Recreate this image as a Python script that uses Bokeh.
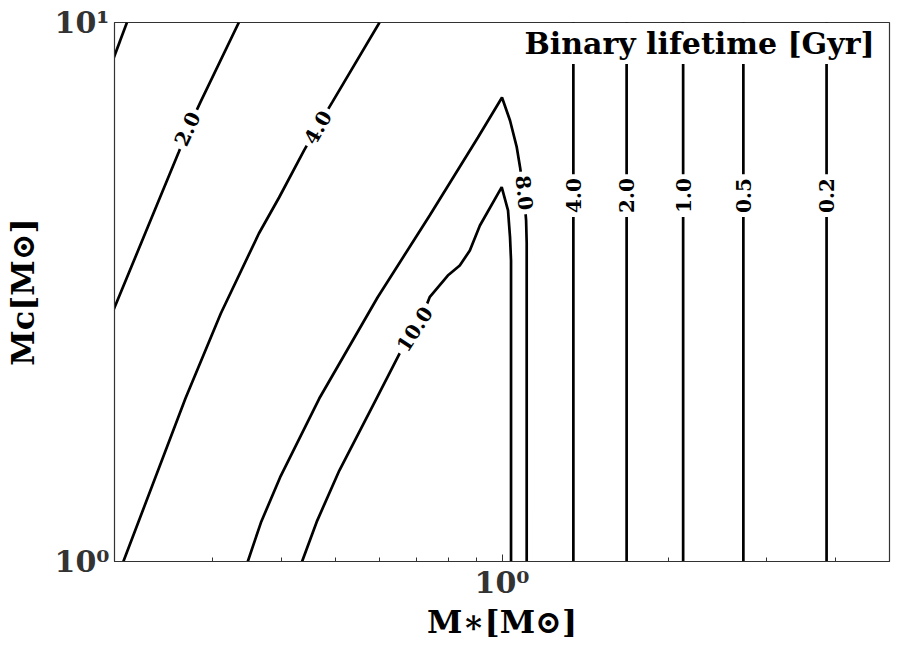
from bokeh.plotting import figure
from bokeh.models import Range1d, FixedTicker, CustomJSTickFormatter, Label
from bokeh.embed import file_html
from bokeh.resources import INLINE

# ---- data (M_* in Msun, M_c in Msun) ----
# contour 1.0 Gyr (top-left corner, unlabelled)
c1_x = [0.198, 0.2106]
c1_y = [8.44, 10.0]
# contour 2.0 Gyr (left branch)
c2_x = [0.198, 0.2275, 0.2611, 0.2722, 0.2858, 0.3352]
c2_y = [2.885, 4.077, 5.745, 6.39, 7.115, 10.0]
# contour 4.0 Gyr (left branch)
c4_x = [0.2075, 0.2685, 0.311, 0.3643, 0.3962, 0.4395, 0.4642, 0.4942, 0.6012]
c4_y = [1.0, 2.006, 2.885, 4.06, 4.735, 5.79, 6.39, 7.115, 10.0]
# contour 8.0 Gyr
c8_x = [0.3479, 0.3674, 0.3978, 0.4681, 0.5963, 0.7405, 0.9048, 1.0,
        1.0339, 1.0632, 1.0779, 1.0962, 1.1053, 1.108, 1.108]
c8_y = [1.0, 1.181, 1.432, 2.006, 3.089, 4.385, 6.118, 7.26,
        6.58, 5.87, 5.39, 4.775, 4.293, 3.9, 1.0]
# contour 10.0 Gyr
c10_x = [0.4359, 0.4642, 0.5088, 0.5937, 0.6579, 0.7045, 0.7405, 0.7984,
         0.8391, 0.875, 0.9123, 0.9988, 1.0253, 1.0339, 1.0382, 1.0382]
c10_y = [1.0, 1.191, 1.475, 2.006, 2.464, 2.718, 3.093, 3.393,
         3.541, 3.776, 4.202, 4.948, 4.48, 3.997, 3.618, 1.0]
# vertical contours on the right
vl_levels = ["4.0", "2.0", "1.0", "0.5", "0.2"]
vl_x = [1.345, 1.678, 2.122, 2.725, 3.85]

# inline contour labels: text, x, y, angle (deg)
lab_text = ["2.0", "4.0", "10.0", "8.0"]
lab_x = [0.2703, 0.4648, 0.695, 1.099]
lab_y = [6.35, 6.39, 2.70, 4.83]
lab_ang = [65, 60, 57, -84]
vl_label_y = 4.775

x_minor = [0.2, 0.3, 0.4, 0.5, 0.6, 0.7, 0.8, 0.9, 2, 3, 4, 5]
x_major = [1.0]
y_major = [1.0, 10.0]

SERIF = "DejaVu Serif"

p = figure(width=899, height=649, x_axis_type="log", y_axis_type="log",
           x_range=Range1d(0.2, 5), y_range=Range1d(1, 10),
           output_backend="svg", toolbar_location=None,
           min_border_left=114, min_border_right=10,
           min_border_top=22, min_border_bottom=88)

p.xgrid.visible = False
p.ygrid.visible = False
p.outline_line_color = "#333333"
p.outline_line_width = 1.2
p.background_fill_color = "white"
p.border_fill_color = "white"

fmt = CustomJSTickFormatter(code="""
const labels = {1: "10\u2070", 10: "10\u00b9"};
const k = Math.round(tick);
return (k in labels) ? labels[k] : "";
""")

p.xaxis.ticker = FixedTicker(ticks=x_major, minor_ticks=x_minor)
p.yaxis.ticker = FixedTicker(ticks=y_major, minor_ticks=[])
p.xaxis.formatter = fmt
p.yaxis.formatter = fmt

for ax in (p.xaxis[0], p.yaxis[0]):
    ax.major_label_text_font = SERIF
    ax.major_label_text_font_style = "bold"
    ax.major_label_text_font_size = "30px"
    ax.major_label_text_color = "#333333"
    ax.axis_label_text_font = SERIF
    ax.axis_label_text_font_style = "bold"
    ax.axis_label_text_font_size = "32px"
    ax.axis_label_text_color = "black"
    ax.axis_line_color = "#333333"
    ax.major_tick_line_color = "#333333"
    ax.minor_tick_line_color = "#333333"

p.xaxis.major_tick_in = 7
p.xaxis.major_tick_out = 0
p.xaxis.minor_tick_in = 4
p.xaxis.minor_tick_out = 0
p.xaxis.major_label_standoff = 3
p.xaxis.axis_label_standoff = 0
p.yaxis.major_tick_in = 0
p.yaxis.major_tick_out = 0
p.yaxis.minor_tick_in = 0
p.yaxis.minor_tick_out = 0
p.yaxis.major_label_standoff = 5
p.yaxis.axis_label_standoff = 10

p.xaxis.axis_label = "M\u2217[M\u2299]"
p.yaxis.axis_label = "M\u1d04[M\u2299]"

LW = 2.7
for xs, ys in ((c1_x, c1_y), (c2_x, c2_y), (c4_x, c4_y), (c8_x, c8_y), (c10_x, c10_y)):
    p.line(xs, ys, line_color="black", line_width=LW)

for xv in vl_x:
    p.line([xv, xv], [1.0, 10.0], line_color="black", line_width=LW)

def clabel(x, y, text, ang):
    p.add_layout(Label(x=x, y=y, text=text, angle=ang, angle_units="deg",
                       text_align="center", text_baseline="middle",
                       text_font=SERIF, text_font_style="bold",
                       text_font_size="20px", text_color="black",
                       background_fill_color="white", padding=4))

for t, x, y, a in zip(lab_text, lab_x, lab_y, lab_ang):
    clabel(x, y, t, a)
for t, x in zip(vl_levels, vl_x):
    clabel(x, vl_label_y, t, 90)

p.add_layout(Label(x=4.76, y=9.14, text="Binary lifetime [Gyr]",
                   text_align="right", text_baseline="middle",
                   text_font=SERIF, text_font_style="bold",
                   text_font_size="30px", text_color="black",
                   background_fill_color="white", padding=3))

open("out.html", "w").write(file_html(p, INLINE))
